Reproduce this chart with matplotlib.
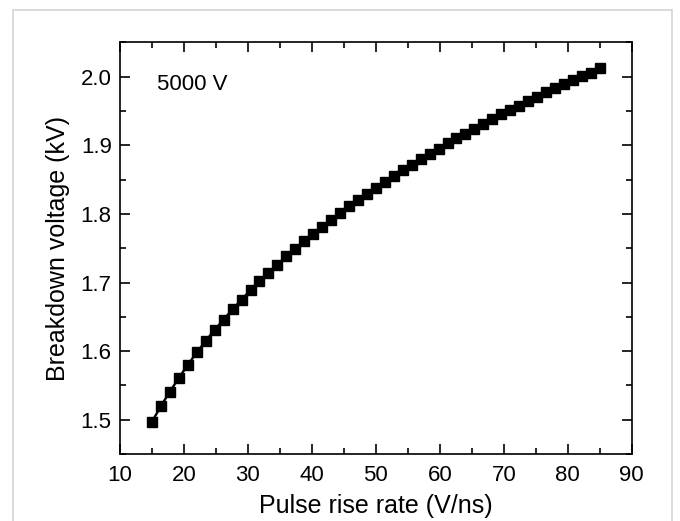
import matplotlib.pyplot as plt
from matplotlib.patches import Rectangle
from matplotlib.ticker import MultipleLocator

plt.rcParams['font.family'] = ['Liberation Sans', 'DejaVu Sans']

rise_rate = [15.0, 16.4, 17.8, 19.2, 20.6, 22.0, 23.4, 24.8, 26.2, 27.6,
             29.0, 30.4, 31.8, 33.2, 34.6, 36.0, 37.4, 38.8, 40.2, 41.6,
             43.0, 44.4, 45.8, 47.2, 48.6, 50.0, 51.4, 52.8, 54.2, 55.6,
             57.0, 58.4, 59.8, 61.2, 62.6, 64.0, 65.4, 66.8, 68.2, 69.6,
             71.0, 72.4, 73.8, 75.2, 76.6, 78.0, 79.4, 80.8, 82.2, 83.6, 85.0]
breakdown = [1.497, 1.520, 1.541, 1.561, 1.580, 1.598, 1.615, 1.631, 1.646, 1.661,
             1.675, 1.689, 1.702, 1.714, 1.726, 1.738, 1.749, 1.760, 1.771, 1.781,
             1.791, 1.801, 1.811, 1.820, 1.829, 1.838, 1.847, 1.855, 1.864, 1.872,
             1.880, 1.887, 1.895, 1.903, 1.910, 1.917, 1.924, 1.931, 1.938, 1.945,
             1.951, 1.958, 1.964, 1.971, 1.977, 1.983, 1.989, 1.995, 2.001, 2.006, 2.012]

fig = plt.figure(figsize=(6.8, 5.21), dpi=100)
fig.patches.append(Rectangle((13 / 680, -0.05), (672 - 13) / 680, 1 - 10 / 521 + 0.05,
                             transform=fig.transFigure, fill=False,
                             edgecolor='#d4d4d4', linewidth=1.2))
ax = fig.add_axes([0.1765, 0.1286, 0.7525, 0.790])

ax.plot(rise_rate, breakdown, '-s', color='black', lw=1.7, markersize=6.5)

ax.set_xlim(10, 90)
ax.set_ylim(1.45, 2.05)
ax.xaxis.set_major_locator(MultipleLocator(10))
ax.xaxis.set_minor_locator(MultipleLocator(5))
ax.yaxis.set_major_locator(MultipleLocator(0.1))
ax.yaxis.set_minor_locator(MultipleLocator(0.05))
ax.tick_params(which='both', direction='in', top=True, right=True, width=1.2,
               labelsize=16)
ax.tick_params(axis='x', pad=8)
ax.tick_params(axis='y', pad=6)
ax.tick_params(which='major', length=7)
ax.tick_params(which='minor', length=4)
for s in ax.spines.values():
    s.set_linewidth(1.2)

ax.set_xlabel('Pulse rise rate (V/ns)', fontsize=18, labelpad=6)
ax.set_ylabel('Breakdown voltage (kV)', fontsize=18, labelpad=8)
ax.text(0.072, 0.897, '5000 V', transform=ax.transAxes, fontsize=16, va='center')

fig.savefig('out.png', dpi=100)
